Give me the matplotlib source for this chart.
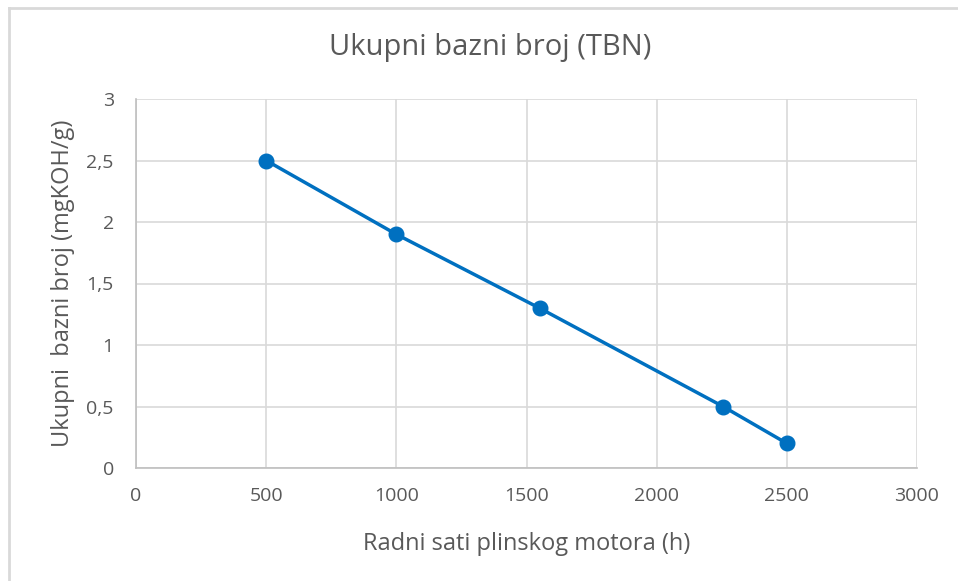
import matplotlib
matplotlib.use("Agg")
from matplotlib import pyplot as plt
from matplotlib.ticker import FuncFormatter, MultipleLocator
from matplotlib.lines import Line2D

# podaci
sati = [500, 1000, 1550, 2255, 2500]
tbn = [2.5, 1.9, 1.3, 0.5, 0.2]

naslov = "Ukupni bazni broj (TBN)"
x_naziv = "Radni sati plinskog motora (h)"
y_naziv = "Ukupni  bazni broj (mgKOH/g)"

siva = "#595959"
plava = "#0070C0"

plt.rcParams['font.family'] = ['Open Sans', 'DejaVu Sans']

fig = plt.figure(figsize=(9.58, 5.81), dpi=100)
ax = fig.add_axes([136/958, 1-468/581, (917-136)/958, (468-99)/581])

ax.plot(sati, tbn, color=plava, lw=2.5, marker='o', ms=10.5, zorder=3)

ax.set_xlim(0, 3000)
ax.set_ylim(0, 3)
ax.xaxis.set_major_locator(MultipleLocator(500))
ax.yaxis.set_major_locator(MultipleLocator(0.5))
ax.yaxis.set_major_formatter(FuncFormatter(lambda v, p: ('%g' % v).replace('.', ',')))
ax.grid(True, color='#d9d9d9', lw=1.2)
ax.set_axisbelow(True)
for s in ax.spines.values():
    s.set_visible(False)
ax.spines['left'].set_visible(True)
ax.spines['bottom'].set_visible(True)
ax.spines['left'].set_color('#bfbfbf')
ax.spines['bottom'].set_color('#bfbfbf')
ax.spines['left'].set_linewidth(1.2)
ax.spines['bottom'].set_linewidth(1.2)
ax.tick_params(length=0, labelsize=14, labelcolor=siva)
ax.tick_params(axis='y', pad=16)
ax.tick_params(axis='x', pad=14)

ax.set_xlabel(x_naziv, fontsize=17, color=siva, labelpad=19)
ax.set_ylabel(y_naziv, fontsize=17, color=siva, labelpad=8)

fig.text(490/958, 1-48/581, naslov, ha='center', va='center', fontsize=21,
         color=siva)

# okvir
fig.add_artist(Line2D([9/958, 9/958], [0, 1-8/581], transform=fig.transFigure, color='#d9d9d9', lw=2))
fig.add_artist(Line2D([9/958, 1], [1-8/581, 1-8/581], transform=fig.transFigure, color='#d9d9d9', lw=2))

fig.savefig('out.png', dpi=100)
